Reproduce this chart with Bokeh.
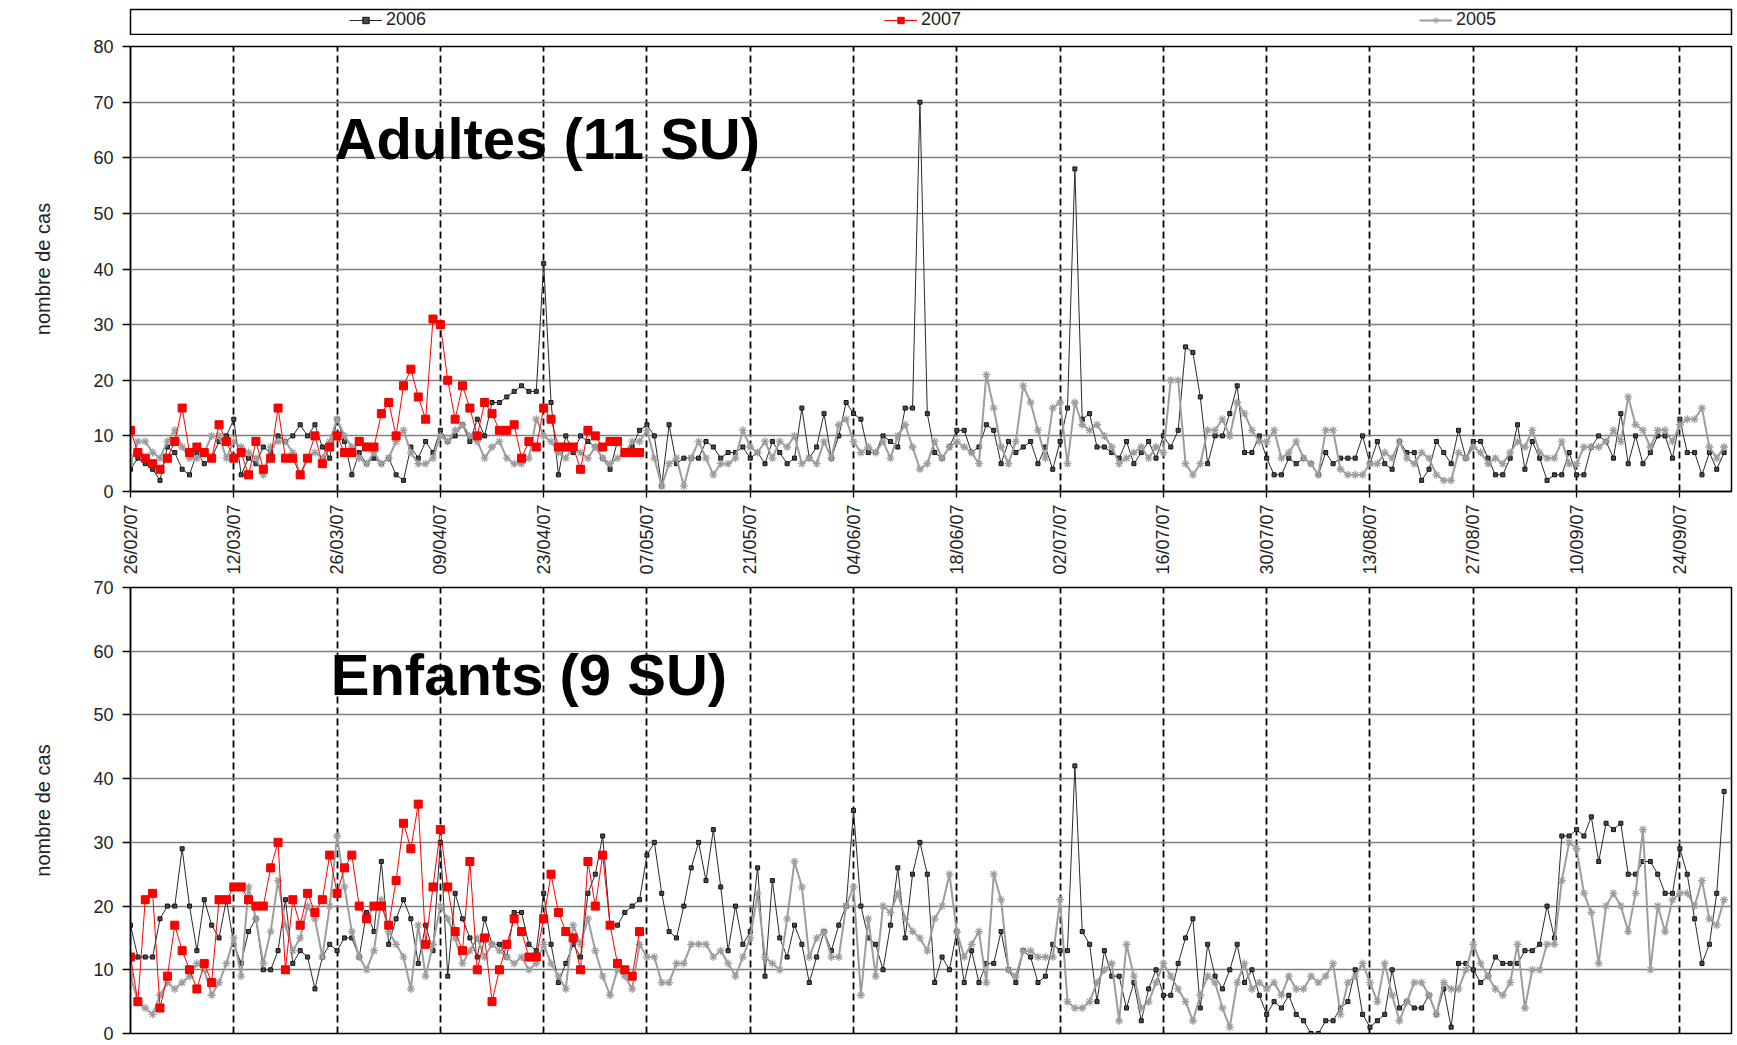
from math import pi
import pandas as pd
from bokeh.plotting import figure
from bokeh.layouts import column
from bokeh.models import (ColumnDataSource, Range1d, FixedTicker, SingleIntervalTicker,
                          DatetimeTickFormatter, Legend, LegendItem, Label)
from bokeh.embed import file_html
from bokeh.resources import INLINE

# ---------------- data ----------------
START = "2007-02-26"
X_END = "2007-10-01"
tick_dates = ["2007-02-26", "2007-03-12", "2007-03-26", "2007-04-09", "2007-04-23",
              "2007-05-07", "2007-05-21", "2007-06-04", "2007-06-18", "2007-07-02",
              "2007-07-16", "2007-07-30", "2007-08-13", "2007-08-27", "2007-09-10",
              "2007-09-24"]
series_names = ["2006", "2007", "2005"]

adultes_2006 = [
    4, 6, 5, 4, 2, 8, 7, 4, 3, 7, 5, 6, 9, 10,
    13, 3, 6, 5, 8, 7, 10, 9, 10, 12, 10, 12, 8, 6,
    13, 9, 3, 7, 5, 6, 5, 6, 3, 2, 8, 6, 9, 7,
    11, 9, 10, 12, 9, 13, 10, 16, 16, 17, 18, 19, 18, 18,
    41, 16, 3, 10, 7, 10, 9, 8, 6, 4, 9, 7, 8, 11,
    12, 10, 1, 12, 5, 6, 6, 6, 9, 8, 6, 7, 7, 8,
    6, 7, 5, 9, 7, 5, 6, 15, 6, 8, 14, 6, 10, 16,
    14, 13, 7, 7, 10, 9, 8, 15, 15, 70, 14, 7, 6, 8,
    11, 11, 7, 8, 12, 11, 5, 9, 7, 8, 9, 5, 8, 4,
    9, 15, 58, 13, 14, 8, 8, 7, 6, 9, 5, 7, 9, 6,
    10, 8, 11, 26, 25, 17, 5, 10, 10, 14, 19, 7, 7, 10,
    6, 3, 3, 6, 5, 6, 5, 3, 7, 5, 6, 6, 6, 10,
    5, 9, 5, 4, 9, 7, 7, 2, 4, 9, 7, 5, 11, 6,
    9, 9, 6, 3, 3, 6, 12, 4, 9, 6, 2, 3, 3, 7,
    3, 3, 8, 10, 9, 6, 14, 5, 10, 5, 7, 10, 10, 6,
    13, 7, 7, 3, 7, 4, 7,
]
adultes_2007 = [
    11, 7, 6, 5, 4, 6, 9, 15, 7, 8, 7, 6, 12, 9,
    6, 7, 3, 9, 4, 6, 15, 6, 6, 3, 6, 10, 5, 8,
    10, 7, 7, 9, 8, 8, 14, 16, 10, 19, 22, 17, 13, 31,
    30, 20, 13, 19, 15, 10, 16, 14, 11, 11, 12, 6, 9, 8,
    15, 13, 8, 8, 8, 4, 11, 10, 8, 9, 9, 7, 7, 7,
]
adultes_2005 = [
    5, 9, 9, 7, 6, 9, 11, 8, 6, 6, 7, 10, 10, 6,
    9, 8, 7, 6, 3, 8, 9, 9, 7, 3, 6, 7, 6, 9,
    13, 10, 8, 6, 5, 7, 5, 6, 9, 11, 7, 5, 5, 6,
    10, 9, 11, 12, 10, 9, 6, 8, 9, 6, 5, 5, 6, 13,
    10, 9, 7, 6, 8, 7, 6, 8, 6, 5, 6, 7, 9, 9,
    11, 6, 1, 5, 6, 1, 6, 9, 6, 3, 5, 5, 6, 11,
    8, 7, 9, 6, 9, 8, 10, 5, 6, 5, 9, 6, 12, 13,
    9, 7, 8, 7, 9, 6, 10, 12, 8, 4, 5, 9, 6, 8,
    9, 8, 7, 5, 21, 15, 8, 5, 9, 19, 16, 11, 6, 15,
    16, 5, 16, 12, 11, 12, 10, 8, 5, 6, 7, 8, 6, 8,
    7, 20, 20, 5, 3, 5, 11, 11, 13, 10, 16, 14, 11, 9,
    9, 11, 6, 7, 9, 6, 5, 3, 11, 11, 4, 3, 3, 3,
    5, 5, 7, 6, 9, 6, 5, 7, 6, 3, 2, 2, 7, 6,
    8, 7, 5, 6, 5, 7, 9, 8, 11, 7, 6, 6, 9, 5,
    5, 8, 8, 8, 9, 11, 9, 17, 12, 11, 8, 11, 11, 9,
    12, 13, 13, 15, 8, 6, 8,
]

enfants_2006 = [
    17, 12, 12, 12, 18, 20, 20, 29, 20, 13, 21, 17, 15, 21,
    14, 11, 16, 18, 10, 10, 13, 21, 11, 13, 12, 7, 12, 14,
    13, 15, 15, 12, 19, 16, 27, 14, 18, 21, 18, 11, 17, 13,
    30, 9, 22, 18, 15, 12, 18, 14, 14, 12, 19, 19, 14, 13,
    22, 14, 8, 11, 14, 12, 22, 25, 31, 17, 17, 19, 20, 21,
    28, 30, 22, 16, 15, 20, 26, 30, 24, 32, 23, 13, 20, 14,
    16, 26, 9, 24, 15, 12, 17, 14, 8, 12, 16, 13, 17, 20,
    35, 20, 15, 14, 10, 17, 26, 15, 25, 30, 25, 8, 12, 10,
    16, 8, 13, 8, 11, 11, 16, 10, 8, 13, 12, 8, 9, 14,
    13, 13, 42, 16, 14, 5, 13, 9, 9, 4, 8, 2, 7, 10,
    6, 6, 11, 15, 18, 4, 14, 9, 7, 10, 14, 8, 10, 6,
    3, 5, 4, 6, 3, 2, 0, 0, 2, 2, 4, 5, 10, 3,
    1, 2, 3, 10, 4, 5, 4, 4, 6, 3, 7, 1, 11, 11,
    10, 8, 9, 12, 11, 11, 11, 13, 13, 14, 20, 15, 31, 31,
    32, 31, 34, 27, 33, 32, 33, 25, 25, 27, 27, 25, 22, 22,
    29, 25, 18, 11, 14, 22, 38,
]
enfants_2007 = [
    12, 5, 21, 22, 4, 9, 17, 13, 10, 7, 11, 8, 21, 21,
    23, 23, 21, 20, 20, 26, 30, 10, 21, 17, 22, 19, 21, 28,
    22, 26, 28, 20, 18, 20, 20, 17, 24, 33, 29, 36, 14, 23,
    32, 23, 16, 13, 27, 10, 15, 5, 10, 14, 18, 16, 12, 12,
    18, 25, 19, 16, 15, 10, 27, 20, 28, 17, 11, 10, 9, 16,
]
enfants_2005 = [
    9, 5, 4, 3, 6, 8, 7, 8, 9, 11, 10, 6, 8, 11,
    15, 9, 23, 18, 11, 16, 24, 17, 13, 15, 20, 18, 12, 20,
    31, 23, 16, 12, 10, 13, 21, 16, 14, 12, 7, 17, 9, 14,
    20, 18, 15, 11, 13, 15, 12, 14, 13, 12, 11, 12, 10, 11,
    14, 11, 9, 7, 17, 14, 18, 13, 9, 6, 10, 9, 7, 14,
    12, 12, 8, 8, 11, 11, 14, 14, 14, 12, 13, 11, 9, 12,
    15, 22, 12, 11, 10, 18, 27, 23, 12, 15, 16, 12, 12, 20,
    23, 6, 18, 9, 20, 19, 22, 18, 16, 15, 13, 18, 20, 25,
    16, 12, 14, 16, 8, 25, 21, 10, 9, 13, 13, 12, 12, 12,
    21, 5, 4, 4, 5, 8, 10, 11, 2, 14, 9, 4, 5, 8,
    11, 9, 7, 5, 2, 6, 9, 8, 4, 1, 8, 11, 7, 8,
    7, 8, 6, 9, 7, 7, 9, 8, 9, 11, 3, 8, 9, 11,
    8, 5, 11, 6, 2, 5, 8, 8, 6, 3, 8, 7, 7, 10,
    14, 11, 9, 7, 6, 8, 14, 4, 10, 10, 14, 14, 24, 30,
    29, 22, 19, 11, 20, 22, 20, 16, 22, 32, 10, 20, 16, 21,
    22, 22, 20, 24, 18, 17, 21,
]

# ---------------- styling ----------------
FONT = "Liberation Sans"
W = 1733
STYLE = {
    "2006": dict(line_color="#2a2a2a", line_width=1.0, marker="square", size=4,
                 fill_color="#4a4a4a", mline="#111111", mwidth=1.0),
    "2007": dict(line_color="#ff0000", line_width=1.0, marker="square", size=8,
                 fill_color="#ff0000", mline="#ee0000", mwidth=1.0),
    "2005": dict(line_color="#9d9d9d", line_width=2.0, marker="asterisk", size=8,
                 fill_color="#9d9d9d", mline="#9d9d9d", mwidth=1.3),
}
DRAW_ORDER = ["2006", "2005", "2007"]


def ms(s):
    return pd.Timestamp(s).value / 1e6


TICKS = [ms(d) for d in tick_dates]
x_range = Range1d(start=ms(START), end=ms(X_END))
fmt = "%d/%m/%y"
formatter = DatetimeTickFormatter(microseconds=fmt, milliseconds=fmt, seconds=fmt,
                                  minsec=fmt, minutes=fmt, hourmin=fmt, hours=fmt,
                                  days=fmt, months=fmt, years=fmt)


def add_series(p, name, values):
    st = STYLE[name]
    src = ColumnDataSource(dict(x=pd.date_range(START, periods=len(values), freq="D"),
                                y=values))
    p.line("x", "y", source=src, line_color=st["line_color"], line_width=st["line_width"])
    p.scatter("x", "y", source=src, marker=st["marker"], size=st["size"],
              fill_color=st["fill_color"], line_color=st["mline"], line_width=st["mwidth"])


def make_panel(data, ymax, title, title_x, title_y, height, top, bottom, show_x):
    p = figure(width=W, height=height, x_axis_type="datetime", x_range=x_range,
               y_range=Range1d(0, ymax), min_border_left=130, min_border_right=2,
               min_border_top=top, min_border_bottom=bottom,
               toolbar_location=None, output_backend="svg")
    p.outline_line_color = "black"
    p.outline_line_width = 1.5
    p.outline_line_alpha = 1.0

    xt = FixedTicker(ticks=TICKS)
    p.xaxis.ticker = xt
    p.xaxis.formatter = formatter
    p.xgrid.ticker = xt
    p.xgrid.grid_line_color = "black"
    p.xgrid.grid_line_dash = "7 4"
    p.xgrid.grid_line_width = 1.8

    yt = SingleIntervalTicker(interval=10)
    p.yaxis.ticker = yt
    p.ygrid.ticker = yt
    p.ygrid.grid_line_color = "#7f7f7f"
    p.ygrid.grid_line_width = 1.3

    for ax in p.axis:
        ax.axis_line_color = "black"
        ax.axis_line_width = 1.5
        ax.major_tick_line_color = "black"
        ax.major_tick_line_width = 1.3
        ax.major_tick_in = 0
        ax.minor_tick_line_color = None
        ax.major_label_text_font = FONT
        ax.major_label_text_color = "#222222"

    p.yaxis.major_tick_out = 8
    p.yaxis.major_label_standoff = 9
    p.yaxis.major_label_text_font_size = "18px"
    p.yaxis.axis_label = "nombre de cas"
    p.yaxis.axis_label_text_font = FONT
    p.yaxis.axis_label_text_font_size = "20px"
    p.yaxis.axis_label_text_font_style = "normal"
    p.yaxis.axis_label_text_color = "#222222"
    p.yaxis.axis_label_standoff = 36

    p.xaxis.major_tick_out = 6
    p.xaxis.major_label_standoff = 7
    p.xaxis.major_label_orientation = pi / 2
    p.xaxis.major_label_text_font_size = "18px"
    if not show_x:
        p.xaxis.visible = False

    for name in DRAW_ORDER:
        add_series(p, name, data[name])

    p.add_layout(Label(x=ms(title_x), y=title_y, text=title, text_font=FONT,
                       text_font_size="58px", text_font_style="bold",
                       text_color="black", text_align="center",
                       text_baseline="alphabetic"))
    return p


# ---------------- legend strip ----------------
strip = figure(width=W, height=35, x_range=Range1d(0, 1), y_range=Range1d(0, 1),
               min_border_left=130, min_border_right=2, min_border_top=9,
               min_border_bottom=1, toolbar_location=None, output_backend="svg")
strip.axis.visible = False
strip.grid.visible = False
strip.outline_line_color = "black"
strip.outline_line_width = 1.5
strip.outline_line_alpha = 1.0

items = []
for name in series_names:
    st = STYLE[name]
    hidden = ColumnDataSource(dict(x=[float("nan")], y=[float("nan")]))
    lr = strip.line("x", "y", source=hidden, line_color=st["line_color"],
                    line_width=1.2 if name != "2005" else 2.0)
    sr = strip.scatter("x", "y", source=hidden, marker=st["marker"], size=st["size"],
                       fill_color=st["fill_color"], line_color=st["mline"])
    items.append(LegendItem(label=name, renderers=[lr, sr]))

legend = Legend(items=items, orientation="horizontal", location=(219, 4),
                padding=0, margin=0, spacing=378, glyph_width=33, glyph_height=16,
                label_height=16, label_width=120, label_standoff=4,
                label_text_font=FONT, label_text_font_size="18px",
                label_text_color="#222222", border_line_alpha=0,
                background_fill_alpha=0)
strip.add_layout(legend)

# ---------------- panels ----------------
top = make_panel({"2006": adultes_2006, "2007": adultes_2007, "2005": adultes_2005},
                 80, "Adultes (11 SU)", "2007-04-23T12:00", 63.4,
                 height=542, top=11, bottom=86, show_x=True)
bottom = make_panel({"2006": enfants_2006, "2007": enfants_2007, "2005": enfants_2005},
                    70, "Enfants (9 SU)", "2007-04-21", 56.3,
                    height=466, top=10, bottom=10, show_x=False)

layout = column(strip, top, bottom, spacing=0)
open("out.html", "w").write(file_html(layout, INLINE))
